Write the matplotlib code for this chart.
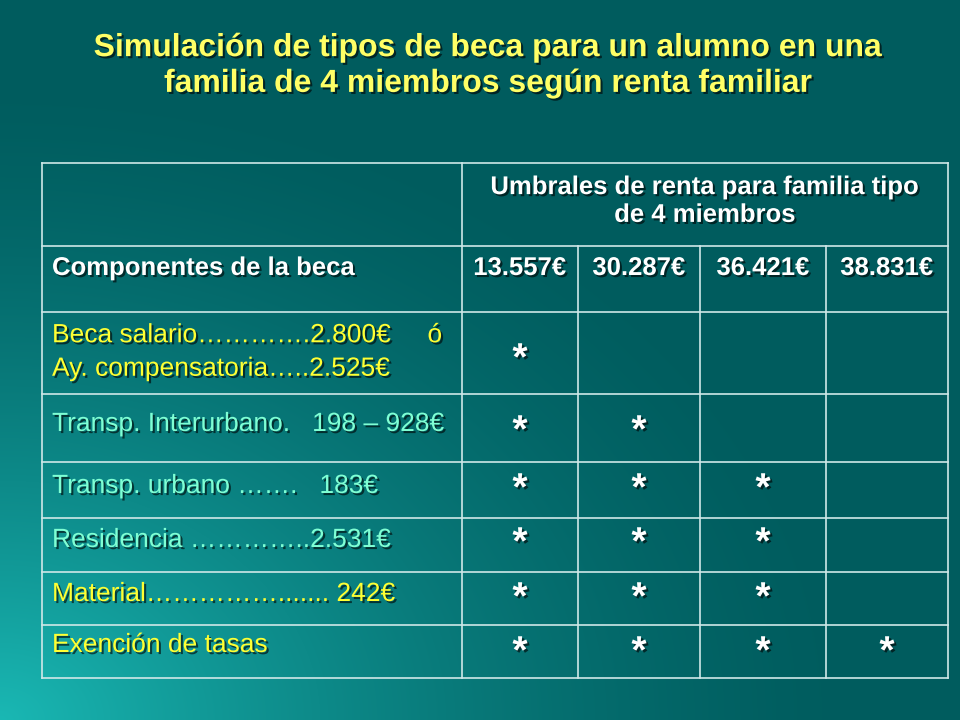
import matplotlib
matplotlib.use("Agg")
import matplotlib.pyplot as plt
import matplotlib.patheffects as pe
import numpy as np

title = "Simulación de tipos de beca para un alumno en una\nfamilia de 4 miembros según renta familiar"
header_top = "Umbrales de renta para familia tipo\nde 4 miembros"
header_left = "Componentes de la beca"
thresholds = ["13.557€", "30.287€", "36.421€", "38.831€"]
components = ["Beca salario………….2.800€     ó\nAy. compensatoria…..2.525€",
              "Transp. Interurbano.   198 – 928€",
              "Transp. urbano …….   183€",
              "Residencia …………..2.531€",
              "Material……………....... 242€",
              "Exención de tasas"]
comp_colors = ["#FFFF33", "#7FFFD4", "#7FFFD4", "#7FFFD4", "#FFFF33", "#FFFF33"]
# eligibility: 1 = star in threshold column
eligible = [[1, 0, 0, 0],
            [1, 1, 0, 0],
            [1, 1, 1, 0],
            [1, 1, 1, 0],
            [1, 1, 1, 0],
            [1, 1, 1, 1]]

fig = plt.figure(figsize=(9.6, 7.2), dpi=100)
ax = fig.add_axes([0, 0, 1, 1])
ax.set_xlim(0, 960); ax.set_ylim(720, 0); ax.axis("off")

# background gradient
yy, xx = np.mgrid[0:720, 0:960]
d = np.sqrt((xx / 960.0) ** 2 + ((720 - yy) / 720.0) ** 2)
t = np.clip(1 - d / 0.9, 0, 1) ** 1.5
dark = np.array([0x00, 0x5c, 0x5e]) / 255
light = np.array([0x1a, 0xb8, 0xb4]) / 255
img = dark[None, None, :] * (1 - t[..., None]) + light[None, None, :] * t[..., None]
ax.imshow(img, extent=(0, 960, 720, 0), aspect="auto", zorder=0)

shadow = [pe.withSimplePatchShadow(offset=(1.5, -1.5), shadow_rgbFace="black", alpha=0.6)]
ax.text(488, 66, title, ha="center", va="center", fontsize=23, fontweight="bold",
        color="#FFFF66", family="Liberation Sans", linespacing=1.25, path_effects=shadow)

xs = [42, 462, 578, 700, 826, 948]
ys = [163, 246, 312, 394, 462, 518, 572, 625, 678]
lc = "#cfe8e8"
for x in xs:
    y0 = 163 if x in (42, 462, 948) else 246
    ax.plot([x, x], [y0, 678], color=lc, lw=1.2, zorder=2)
for y in ys:
    ax.plot([42, 948], [y, y], color=lc, lw=1.2, zorder=2)

fs = 18.5
ax.text((462 + 948) / 2, 201, header_top, ha="center", va="center", fontsize=fs,
        fontweight="bold", color="white", family="Liberation Sans", linespacing=1.2, path_effects=shadow)
ax.text(52, 268, header_left, ha="left", va="center", fontsize=fs, fontweight="bold",
        color="white", family="Liberation Sans", path_effects=shadow)
for i, th in enumerate(thresholds):
    ax.text((xs[i + 1] + xs[i + 2]) / 2, 268, th, ha="center", va="center", fontsize=fs,
            fontweight="bold", color="white", family="Liberation Sans", path_effects=shadow)

row_text_y = [352, 424, 486, 540, 594, 645]
star_y = [360, 432, 490, 544, 599, 653]
for r, comp in enumerate(components):
    ax.text(52, row_text_y[r], comp, ha="left", va="center", fontsize=19,
            color=comp_colors[r], family="Liberation Sans", linespacing=1.5, path_effects=shadow)
    for c, e in enumerate(eligible[r]):
        if e:
            ax.text((xs[c + 1] + xs[c + 2]) / 2 - 0, star_y[r], "*", ha="center", va="center",
                    fontsize=28, fontweight="bold", color="white", family="Liberation Sans",
                    path_effects=shadow)

fig.savefig("out.png", dpi=100)
